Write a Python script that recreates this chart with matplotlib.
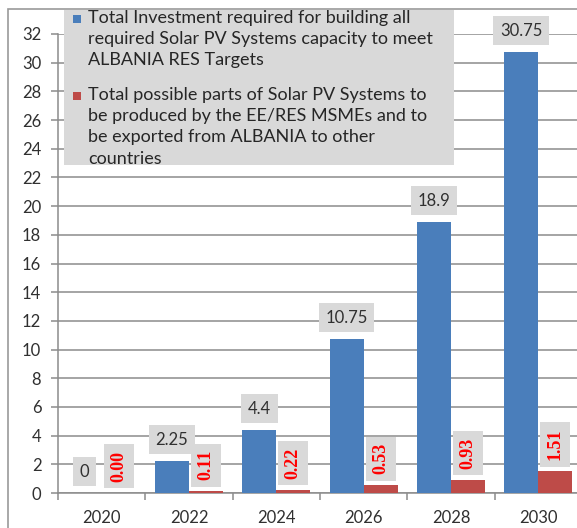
import matplotlib
matplotlib.use("Agg")
import matplotlib.pyplot as plt
from matplotlib.patches import Rectangle
import numpy as np

# Datos del gráfico
anios = ["2020", "2022", "2024", "2026", "2028", "2030"]
inversion_total = [0, 2.25, 4.4, 10.75, 18.9, 30.75]
partes_exportables = [0.00, 0.11, 0.22, 0.53, 0.93, 1.51]

etiqueta_inversion = ("Total Investment required for building all\n"
                      "required Solar PV Systems capacity to meet\n"
                      "ALBANIA RES Targets")
etiqueta_partes = ("Total possible parts of Solar PV Systems to\n"
                   "be produced by the EE/RES MSMEs and to\n"
                   "be exported from ALBANIA to other\n"
                   "countries")

AZUL = "#4a7ebb"
ROJO = "#be4b48"
GRIS_CAJA = "#d9d9d9"
GRIS_LINEA = "#8c8c8c"
TEXTO = "#303030"

plt.rcParams["font.family"] = ["Lato", "DejaVu Sans"]

W, H = 577, 528
fig = plt.figure(figsize=(W / 100, H / 100), dpi=100)


def fx(px):
    return px / W


def fy(py):
    return 1 - py / H


# marco exterior del gráfico
fig.patches.append(Rectangle((fx(8), fy(540)), fx(600), fy(9) - fy(540),
                             transform=fig.transFigure, fill=False,
                             edgecolor="#9a9a9a", linewidth=1.2))

ax = fig.add_axes([fx(58), fy(493), fx(582) - fx(58), fy(34) - fy(493)])

x = np.arange(len(anios))
ancho = 0.39
barras_azul = ax.bar(x - ancho / 2, inversion_total, ancho, color=AZUL, zorder=3)
barras_rojo = ax.bar(x + ancho / 2, partes_exportables, ancho, color=ROJO, zorder=3)

ax.set_xlim(-0.5, len(anios) - 0.5)
ax.set_ylim(0, 32)
ax.set_yticks(range(0, 33, 2))
ax.set_xticks(x)
ax.set_xticklabels(anios)
ax.set_xticks(np.arange(-0.5, len(anios), 1), minor=True)

ax.grid(axis="y", color=GRIS_LINEA, linewidth=1.1, zorder=0)
for lado in ["top", "right"]:
    ax.spines[lado].set_visible(False)
for lado in ["left", "bottom"]:
    ax.spines[lado].set_color(GRIS_LINEA)
    ax.spines[lado].set_linewidth(1.1)

ax.tick_params(axis="y", direction="out", length=5, width=1.1, color=GRIS_LINEA,
               labelsize=12, labelcolor=TEXTO, pad=7)
ax.tick_params(axis="x", which="major", length=0, labelsize=12, labelcolor=TEXTO, pad=12)
ax.tick_params(axis="x", which="minor", direction="out", length=5, width=1.1,
               color=GRIS_LINEA)

# etiquetas de valor sobre las barras
for barra, valor in zip(barras_azul, inversion_total):
    ax.annotate(f"{valor:g}", xy=(barra.get_x() + barra.get_width() / 2, valor),
                xytext=(0, 9.5), textcoords="offset points", ha="center", va="bottom",
                fontsize=12, color=TEXTO, zorder=5,
                bbox=dict(boxstyle="square,pad=0.4", facecolor=GRIS_CAJA, edgecolor="none"))

for barra, valor in zip(barras_rojo, partes_exportables):
    ax.annotate(f"{valor:.2f}", xy=(barra.get_x() + barra.get_width() / 2, valor),
                xytext=(0, 8), textcoords="offset points", ha="center", va="bottom",
                rotation=90, fontsize=13, color="#ff0000", fontweight="bold",
                family="Liberation Serif", zorder=5,
                bbox=dict(boxstyle="square,pad=0.36", facecolor=GRIS_CAJA, edgecolor="none"))

# leyenda dibujada a mano sobre fondo gris
fig.patches.append(Rectangle((fx(64), fy(165)), fx(454) - fx(64), fy(10) - fy(165),
                             transform=fig.transFigure, facecolor=GRIS_CAJA,
                             edgecolor="none", zorder=4))
for color, texto, y_marca, y_texto in [(AZUL, etiqueta_inversion, 15, 10),
                                       (ROJO, etiqueta_partes, 92, 87)]:
    fig.patches.append(Rectangle((fx(73), fy(y_marca + 8)), fx(8), fy(y_marca) - fy(y_marca + 8),
                                 transform=fig.transFigure, facecolor=color,
                                 edgecolor="none", zorder=5))
    fig.text(fx(88), fy(y_texto), texto, ha="left", va="top", fontsize=13,
             color="#262626", linespacing=1.4, zorder=6)

fig.savefig("out.png", dpi=100)
